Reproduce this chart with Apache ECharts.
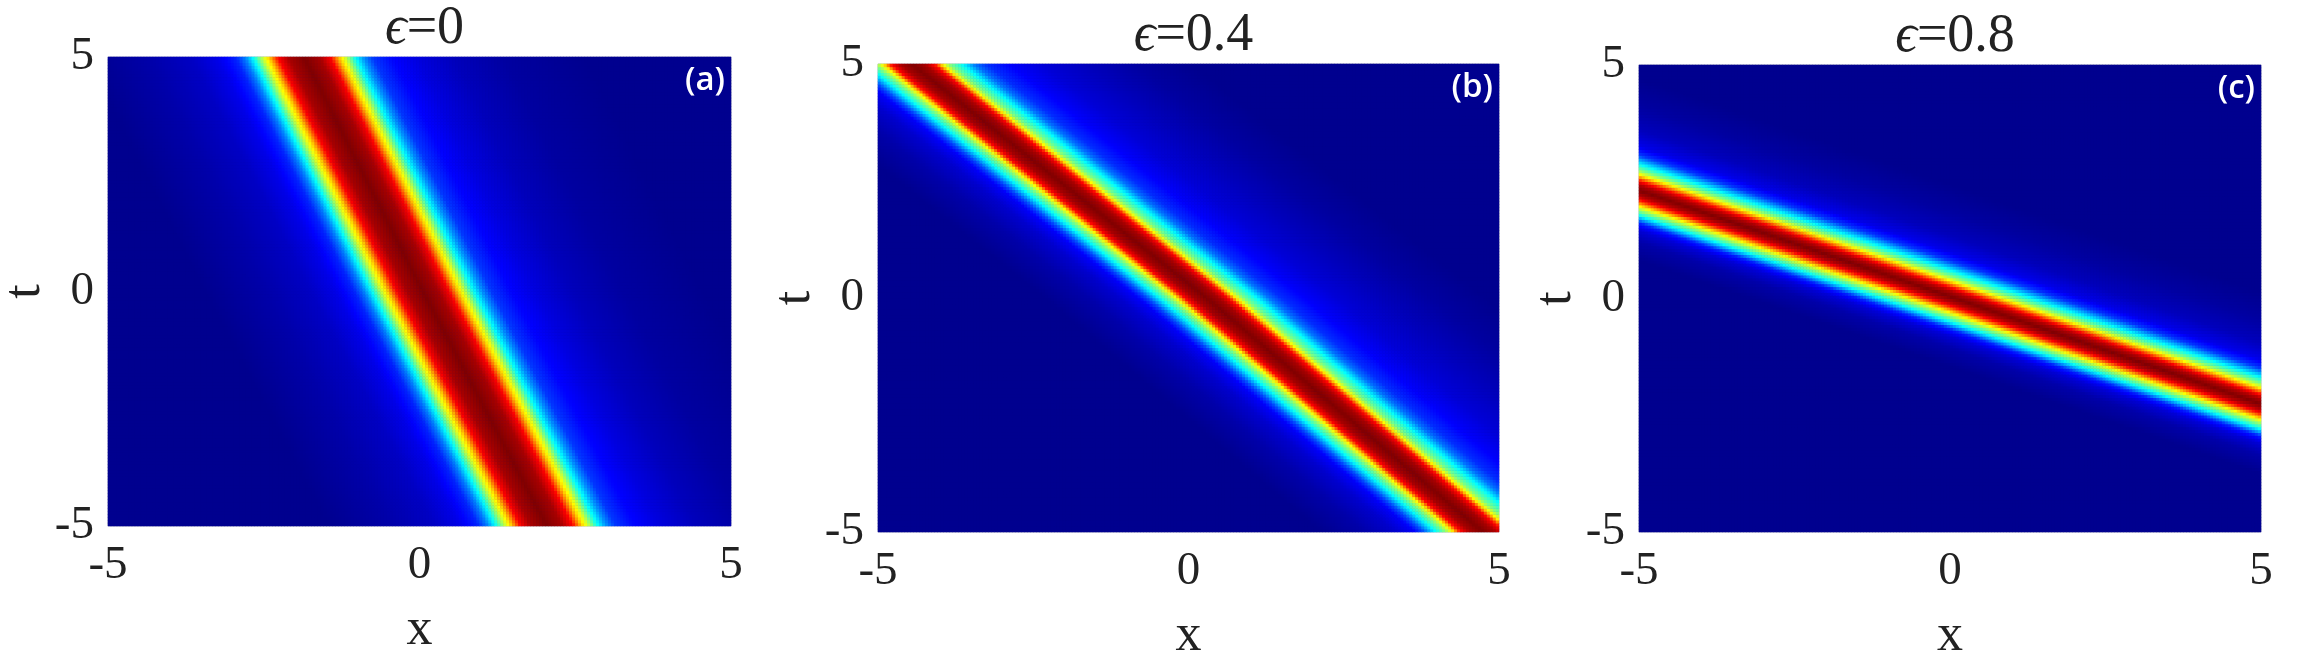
<!DOCTYPE html>
<html>
<head>
<meta charset="utf-8">
<script src="https://cdn.jsdelivr.net/npm/echarts@6/dist/echarts.min.js"></script>
<style>
  html, body { margin: 0; padding: 0; background: #fff; }
  #chart { width: 2307px; height: 661px; }
</style>
</head>
<body>
<div id="chart"></div>
<script>
// panel titles / tags
var titles = ['0', '0.4', '0.8'];
var tags = ['(a)', '(b)', '(c)'];

// ridge centre: (a),(b) give x of the peak at each t,
// (c) gives t of the peak at each x
var ridgeA_t = [-5, 0, 5];
var ridgeA_x = [2.05, 0.06, -1.85];
var ridgeB_t = [-5, 0, 5];
var ridgeB_x = [4.75, 0.3, -4.45];
var ridgeC_x = [-5, 0, 5];
var ridgeC_t = [2.32, 0.05, -2.25];

// cross-section of the ridge (normalised level), signed offset from the centre
// (a),(b): offset in x (negative = left); (c): offset in t (negative = below)
var profA_d = [-3.5, -2.5, -1.8, -1.4, -1.1, -0.95, -0.8, -0.66, -0.56, -0.42, -0.25, 0, 0.25, 0.42, 0.56, 0.66, 0.8, 0.95, 1.1, 1.4, 1.8, 2.4, 3.2, 4.5];
var profA_v = [0, 0.03, 0.06, 0.1, 0.16, 0.25, 0.4, 0.58, 0.68, 0.875, 0.96, 1, 0.96, 0.875, 0.68, 0.58, 0.4, 0.27, 0.18, 0.13, 0.09, 0.05, 0.02, 0];
var profB_d = [-2.6, -1.9, -1.4, -1.1, -0.95, -0.75, -0.6, -0.48, -0.35, -0.2, 0, 0.2, 0.35, 0.48, 0.6, 0.8, 1.0, 1.2, 1.6, 2.1, 2.8, 3.6, 4.5];
var profB_v = [0, 0.03, 0.07, 0.12, 0.2, 0.38, 0.5, 0.63, 0.87, 0.96, 1, 0.96, 0.87, 0.63, 0.5, 0.38, 0.24, 0.17, 0.12, 0.08, 0.05, 0.02, 0];
var profC_d = [-1.5, -1.1, -0.85, -0.7, -0.54, -0.44, -0.34, -0.2, -0.12, 0, 0.12, 0.2, 0.34, 0.44, 0.56, 0.76, 0.95, 1.3, 1.8, 2.4];
var profC_v = [0, 0.03, 0.08, 0.16, 0.38, 0.5, 0.63, 0.87, 0.95, 1, 0.95, 0.87, 0.63, 0.5, 0.38, 0.18, 0.1, 0.05, 0.02, 0];

var NX = 208, NY = 160;

function lerp(xs, ys, x) {
  if (x <= xs[0]) return ys[0];
  for (var k = 1; k < xs.length; k++) {
    if (x <= xs[k]) {
      var f = (x - xs[k - 1]) / (xs[k] - xs[k - 1]);
      return ys[k - 1] + f * (ys[k] - ys[k - 1]);
    }
  }
  return ys[ys.length - 1];
}

// heatmap cells; along = 'x' reads the profile along x for each row, 't' along t for each column
function buildCells(rk, rv, pd, pv, along) {
  var out = [];
  for (var j = 0; j < NY; j++) {
    var t = -5 + (j + 0.5) * 10 / NY;
    for (var i = 0; i < NX; i++) {
      var x = -5 + (i + 0.5) * 10 / NX;
      var d = along === 'x' ? x - lerp(rk, rv, t) : t - lerp(rk, rv, x);
      out.push([i, j, lerp(pd, pv, d)]);
    }
  }
  return out;
}

var cells = [
  buildCells(ridgeA_t, ridgeA_x, profA_d, profA_v, 'x'),
  buildCells(ridgeB_t, ridgeB_x, profB_d, profB_v, 'x'),
  buildCells(ridgeC_x, ridgeC_t, profC_d, profC_v, 't')
];

var idx = function (n) { var a = []; for (var i = 0; i < n; i++) a.push(i); return a; };

var grids = [
  { left: 108, top: 57, width: 623, height: 469 },
  { left: 878, top: 64, width: 621, height: 468 },
  { left: 1639, top: 65, width: 622, height: 467 }
];

var serif = "'Liberation Serif', 'Times New Roman', serif";
var jet = ['#00008F', '#0000FF', '#0080FF', '#00FFFF', '#80FF80', '#FFFF00', '#FF8000', '#FF0000', '#800000'];

var option = {
  animation: false,
  backgroundColor: '#fff',
  title: [],
  grid: [],
  xAxis: [],
  yAxis: [],
  visualMap: {
    show: false, type: 'continuous', min: 0, max: 1, dimension: 2,
    seriesIndex: [0, 1, 2], inRange: { color: jet }
  },
  graphic: [],
  series: []
};

grids.forEach(function (g, k) {
  option.grid.push({ left: g.left, top: g.top, width: g.width, height: g.height,
    outerBoundsMode: 'none', containLabel: false,
    show: true, borderColor: '#b8b8c8', borderWidth: 1, backgroundColor: '#00008F' });
  option.xAxis.push({ type: 'category', gridIndex: k, data: idx(NX), show: false });
  option.xAxis.push({
    type: 'value', gridIndex: k, position: 'bottom', min: -5, max: 5, interval: 5,
    axisLine: { show: false }, axisTick: { show: false }, splitLine: { show: false },
    axisLabel: { fontFamily: serif, fontSize: 47, color: '#222', margin: 16 },
    name: 'x', nameLocation: 'middle', nameGap: 78,
    nameTextStyle: { fontFamily: serif, fontSize: 52, color: '#222' }
  });
  option.yAxis.push({ type: 'category', gridIndex: k, data: idx(NY), show: false });
  option.yAxis.push({
    type: 'value', gridIndex: k, position: 'left', min: -5, max: 5, interval: 5,
    axisLine: { show: false }, axisTick: { show: false }, splitLine: { show: false },
    axisLabel: { fontFamily: serif, fontSize: 47, color: '#222', margin: 14 },
    name: 't', nameLocation: 'middle', nameGap: 56, nameRotate: 90,
    nameTextStyle: { fontFamily: serif, fontSize: 52, color: '#222' }
  });
  option.series.push({
    type: 'heatmap', xAxisIndex: 2 * k, yAxisIndex: 2 * k, data: cells[k],
    progressive: 0, silent: true, emphasis: { disabled: true }
  });
  option.title.push({
    text: '{e|ϵ}=' + titles[k],
    left: g.left + g.width / 2, top: g.top - 60, textAlign: 'center',
    textStyle: {
      fontFamily: serif, fontSize: 54, fontWeight: 'normal', color: '#222',
      rich: { e: { fontFamily: serif, fontStyle: 'italic', fontSize: 54, color: '#222' } }
    }
  });
  option.graphic.push({
    type: 'text', right: 2307 - (g.left + g.width) + 6, top: g.top + 7, z: 100,
    style: { text: tags[k], fill: '#fff', font: "600 33px 'Open Sans', sans-serif" }
  });
});

var chart = echarts.init(document.getElementById('chart'), null, { renderer: 'canvas' });
chart.setOption(option);
</script>
</body>
</html>
